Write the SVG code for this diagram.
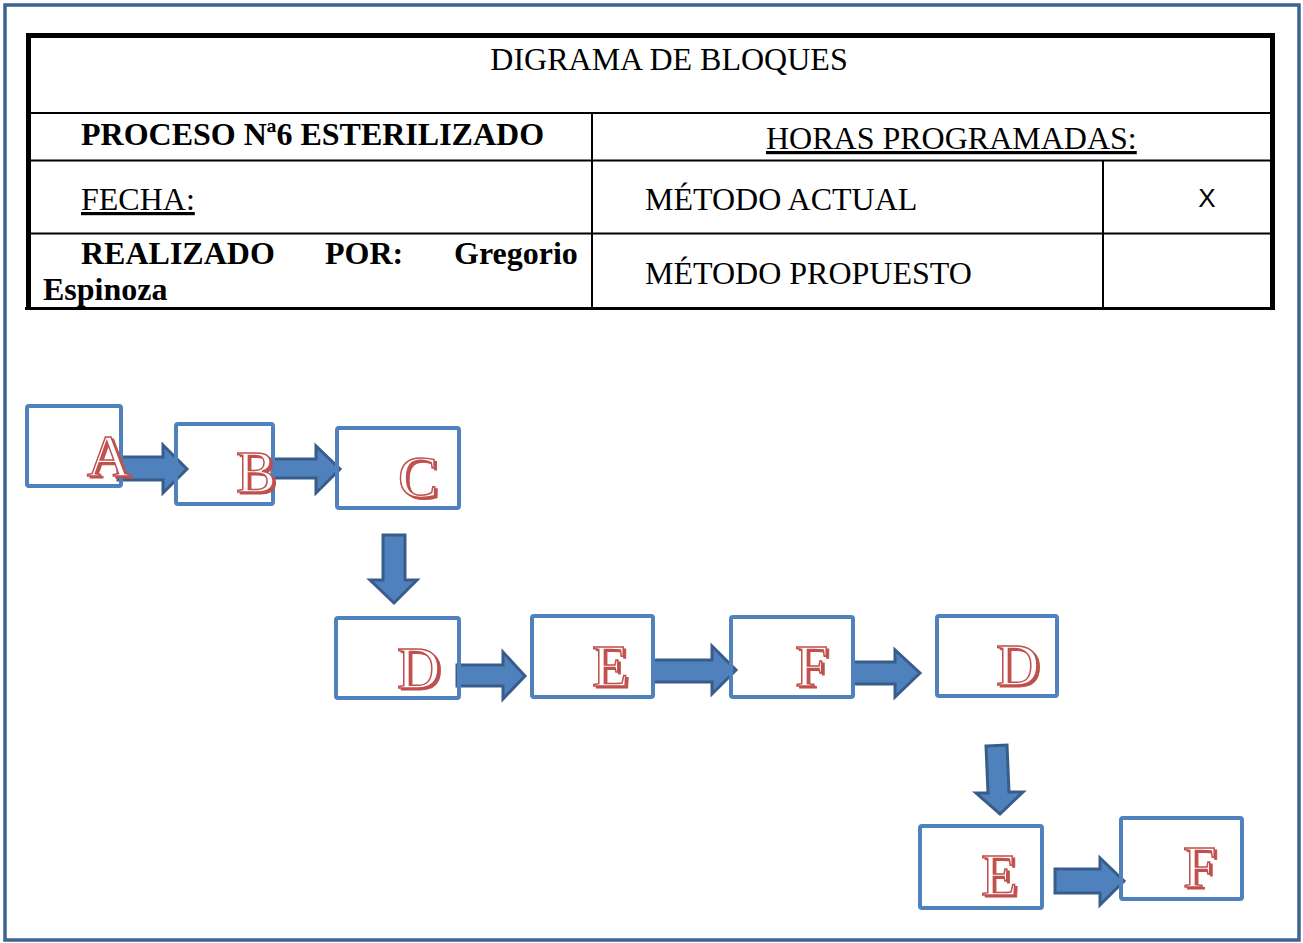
<svg xmlns="http://www.w3.org/2000/svg" width="1303" height="943" viewBox="0 0 1303 943">
<defs>
<style>
.t{font-family:"Liberation Serif","Times New Roman",serif;font-size:32px;fill:#000}
.b{font-weight:bold}
.u{text-decoration:underline}
.ln{stroke:#000;stroke-width:2;fill:none}
.box{fill:none;stroke:#4f81bd;stroke-width:4}
.arr{fill:#4f81bd;stroke:#385d8a;stroke-width:3;stroke-linejoin:miter}
.lt{font-family:"Liberation Serif","Times New Roman",serif;font-size:60px}
.sh{fill:#c0504d;stroke:#c0504d;stroke-width:1}
.fr{fill:#fff;stroke:#c0504d;stroke-width:1.5}
</style>
</defs>
<rect width="1303" height="943" fill="#fff"/>
<rect x="5" y="5" width="1294" height="935" fill="none" stroke="#3b6393" stroke-width="3.5"/>
<g id="table">
<rect x="26" y="33" width="1249" height="5" fill="#000"/>
<rect x="26" y="33" width="5" height="276" fill="#000"/>
<rect x="1270" y="33" width="5" height="277" fill="#000"/>
<rect x="25" y="307" width="1250" height="3" fill="#000"/>
<line class="ln" x1="31" y1="113" x2="1270" y2="113"/>
<line class="ln" x1="31" y1="160.5" x2="1270" y2="160.5"/>
<line class="ln" x1="31" y1="233.5" x2="1270" y2="233.5"/>
<line class="ln" x1="592" y1="113" x2="592" y2="308"/>
<line class="ln" x1="1103" y1="160" x2="1103" y2="308"/>
<text class="t" x="669" y="70" text-anchor="middle">DIGRAMA DE BLOQUES</text>
<text class="t b" x="81" y="145">PROCESO Nª6 ESTERILIZADO</text>
<text class="t u" x="766" y="149">HORAS PROGRAMADAS:</text>
<text class="t u" x="81" y="210">FECHA:</text>
<text class="t" x="645" y="210">MÉTODO ACTUAL</text>
<text x="1207" y="207" text-anchor="middle" font-family="Liberation Sans, Arial, sans-serif" font-size="26">X</text>
<text class="t b" x="81" y="264">REALIZADO</text>
<text class="t b" x="325" y="264">POR:</text>
<text class="t b" x="454" y="264">Gregorio</text>
<text class="t b" x="43" y="300">Espinoza</text>
<text class="t" x="645" y="284">MÉTODO PROPUESTO</text>
</g>
<g id="connectors">
<polygon class="arr" points="118,457 163,457 163,445 187,469 163,493 163,480 118,480"/>
<polygon class="arr" points="272,459 316,459 316,446 340,469 316,493 316,478 272,478"/>
<polygon class="arr" points="383,535 405,535 405,580 417,580 394,603 370,580 383,580"/>
<polygon class="arr" points="457,665 503,665 503,652 525,676 503,699 503,686 457,686"/>
<polygon class="arr" points="653,660 712,660 712,646 736,670 712,694 712,682 653,682"/>
<polygon class="arr" points="853,662 895,662 895,650 920,673 895,697 895,684 853,684"/>
<polygon class="arr" points="986,746 1007,745 1009,792 1023,792 1000,814 976,793 988,793"/>
<polygon class="arr" points="1055,869 1100,869 1100,858 1124,881 1100,905 1100,893 1055,893"/>
</g>
<g id="node-A"><rect class="box" x="27" y="406" width="94" height="80" rx="2"/><text class="lt sh" x="89.5" y="478">A</text><text class="lt fr" x="87" y="476">A</text></g>
<g id="node-B"><rect class="box" x="176" y="424" width="97" height="80" rx="2"/><text class="lt sh" x="238.5" y="494">B</text><text class="lt fr" x="236" y="492">B</text></g>
<g id="node-C"><rect class="box" x="337" y="428" width="122" height="80" rx="2"/><text class="lt sh" x="400.5" y="499">C</text><text class="lt fr" x="398" y="497">C</text></g>
<g id="node-D1"><rect class="box" x="336" y="618" width="123" height="80" rx="2"/><text class="lt sh" x="399.5" y="690">D</text><text class="lt fr" x="397" y="688">D</text></g>
<g id="node-E1"><rect class="box" x="532" y="616" width="121" height="81" rx="2"/><text class="lt sh" x="594.5" y="688">E</text><text class="lt fr" x="592" y="686">E</text></g>
<g id="node-F1"><rect class="box" x="731" y="617" width="122" height="80" rx="2"/><text class="lt sh" x="797.5" y="688">F</text><text class="lt fr" x="795" y="686">F</text></g>
<g id="node-D2"><rect class="box" x="937" y="616" width="120" height="80" rx="2"/><text class="lt sh" x="998.5" y="687">D</text><text class="lt fr" x="996" y="685">D</text></g>
<g id="node-E2"><rect class="box" x="920" y="826" width="122" height="82" rx="2"/><text class="lt sh" x="983.5" y="897">E</text><text class="lt fr" x="981" y="895">E</text></g>
<g id="node-F2"><rect class="box" x="1121" y="818" width="121" height="81" rx="2"/><text class="lt sh" x="1185.5" y="889">F</text><text class="lt fr" x="1183" y="887">F</text></g>
</svg>
